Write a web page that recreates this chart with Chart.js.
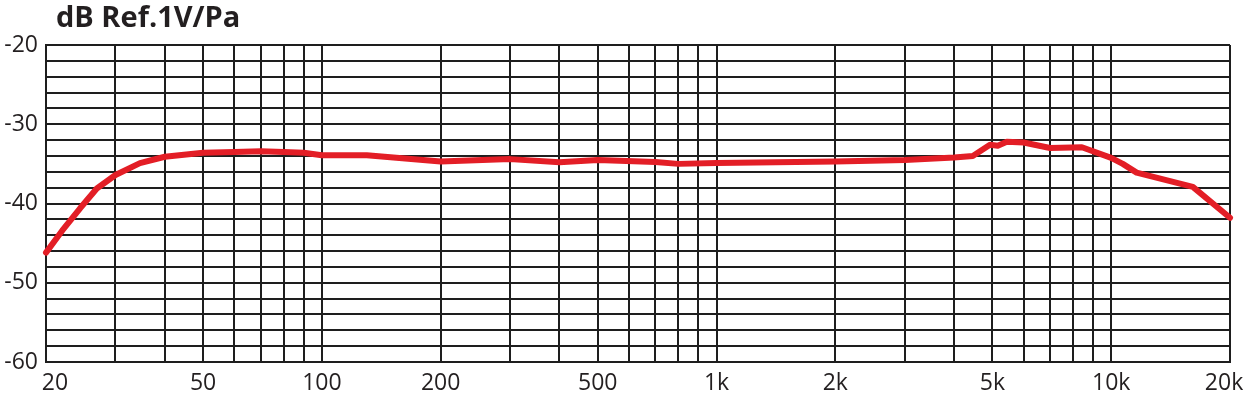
<!DOCTYPE html>
<html>
<head>
<meta charset="utf-8">
<script src="https://cdn.jsdelivr.net/npm/chart.js@4.4.1/dist/chart.umd.min.js"></script>
<style>
  html, body { margin: 0; padding: 0; background: #ffffff; }
  #wrap { position: relative; width: 1245px; height: 399px; }
  #title { position: absolute; left: 56px; top: -4px; font-family: "Open Sans", sans-serif; font-weight: 700; font-size: 29px; color: #231f20; white-space: nowrap; }
  canvas { display: block; }
</style>
</head>
<body>
<div id="wrap">
  <div id="title">dB Ref.1V/Pa</div>
  <canvas id="c" width="1245" height="399"></canvas>
</div>
<script>
// Frequency (Hz) and sensitivity (dB re 1V/Pa)
const freqs = [20, 22, 24.4, 26.9, 30, 34.6, 40, 50, 60, 70, 80, 90, 100, 130, 200, 300, 400, 500, 700, 800, 1000, 2000, 3000, 4000, 4460, 4930, 5160, 5440, 6000, 7000, 8430, 10000, 10700, 11600, 16100, 20000];
const levels = [-46.2, -43.4, -40.6, -38.1, -36.4, -34.9, -34.1, -33.6, -33.5, -33.4, -33.5, -33.6, -33.9, -33.9, -34.7, -34.4, -34.8, -34.5, -34.75, -35.0, -34.9, -34.7, -34.5, -34.2, -34.0, -32.6, -32.7, -32.2, -32.3, -33.0, -32.9, -34.25, -35.0, -36.1, -37.9, -41.8];
// Vertical grid positions and labelled ticks
const xGrid = [20, 30, 40, 50, 60, 70, 80, 90, 100, 200, 300, 400, 500, 600, 700, 800, 900, 1000, 2000, 3000, 4000, 5000, 6000, 7000, 8000, 9000, 10000, 20000];
const xLabels = {20: '   20', 50: '50', 100: '100', 200: '200', 500: '500', 1000: '1k', 2000: '2k', 5000: '5k', 10000: '10k', 20000: '20k  '};
const yLabels = [-60, -50, -40, -30, -20];

const gridColor = '#1e1e1e';
const tickFont = { family: '"Open Sans", sans-serif', size: 23 };

new Chart(document.getElementById('c'), {
  type: 'line',
  data: {
    datasets: [{
      data: freqs.map((f, i) => ({ x: f, y: levels[i] })),
      borderColor: '#e31e26',
      borderWidth: 6,
      pointRadius: 0,
      tension: 0,
      borderJoinStyle: 'round',
      borderCapStyle: 'round',
      clip: false
    }]
  },
  options: {
    responsive: false,
    animation: false,
    devicePixelRatio: 1,
    layout: { padding: { top: 45, right: 15, left: 0, bottom: 0 } },
    plugins: { legend: { display: false }, tooltip: { enabled: false }, title: { display: false } },
    scales: {
      x: {
        type: 'logarithmic',
        min: 20, max: 20000,
        afterBuildTicks: s => { s.ticks = xGrid.map(v => ({ value: v })); },
        afterFit: s => { s.height = 37; s.paddingRight = 0; s.paddingLeft = 0; },
        ticks: {
          autoSkip: false, maxRotation: 0, minRotation: 0,
          padding: 8,
          color: '#231f20',
          font: tickFont,
          callback: v => (xLabels[v] !== undefined ? xLabels[v] : '')
        },
        grid: { color: gridColor, lineWidth: 2, drawTicks: false },
        border: { display: true, color: gridColor, width: 2 }
      },
      y: {
        min: -60, max: -20,
        afterFit: s => { s.width = 46; },
        ticks: {
          stepSize: 2,
          autoSkip: false,
          padding: 8,
          color: '#231f20',
          font: tickFont,
          callback: v => (yLabels.includes(v) ? String(v) : '')
        },
        grid: { color: gridColor, lineWidth: 2, drawTicks: false },
        border: { display: true, color: gridColor, width: 2 }
      }
    }
  }
});
</script>
</body>
</html>
